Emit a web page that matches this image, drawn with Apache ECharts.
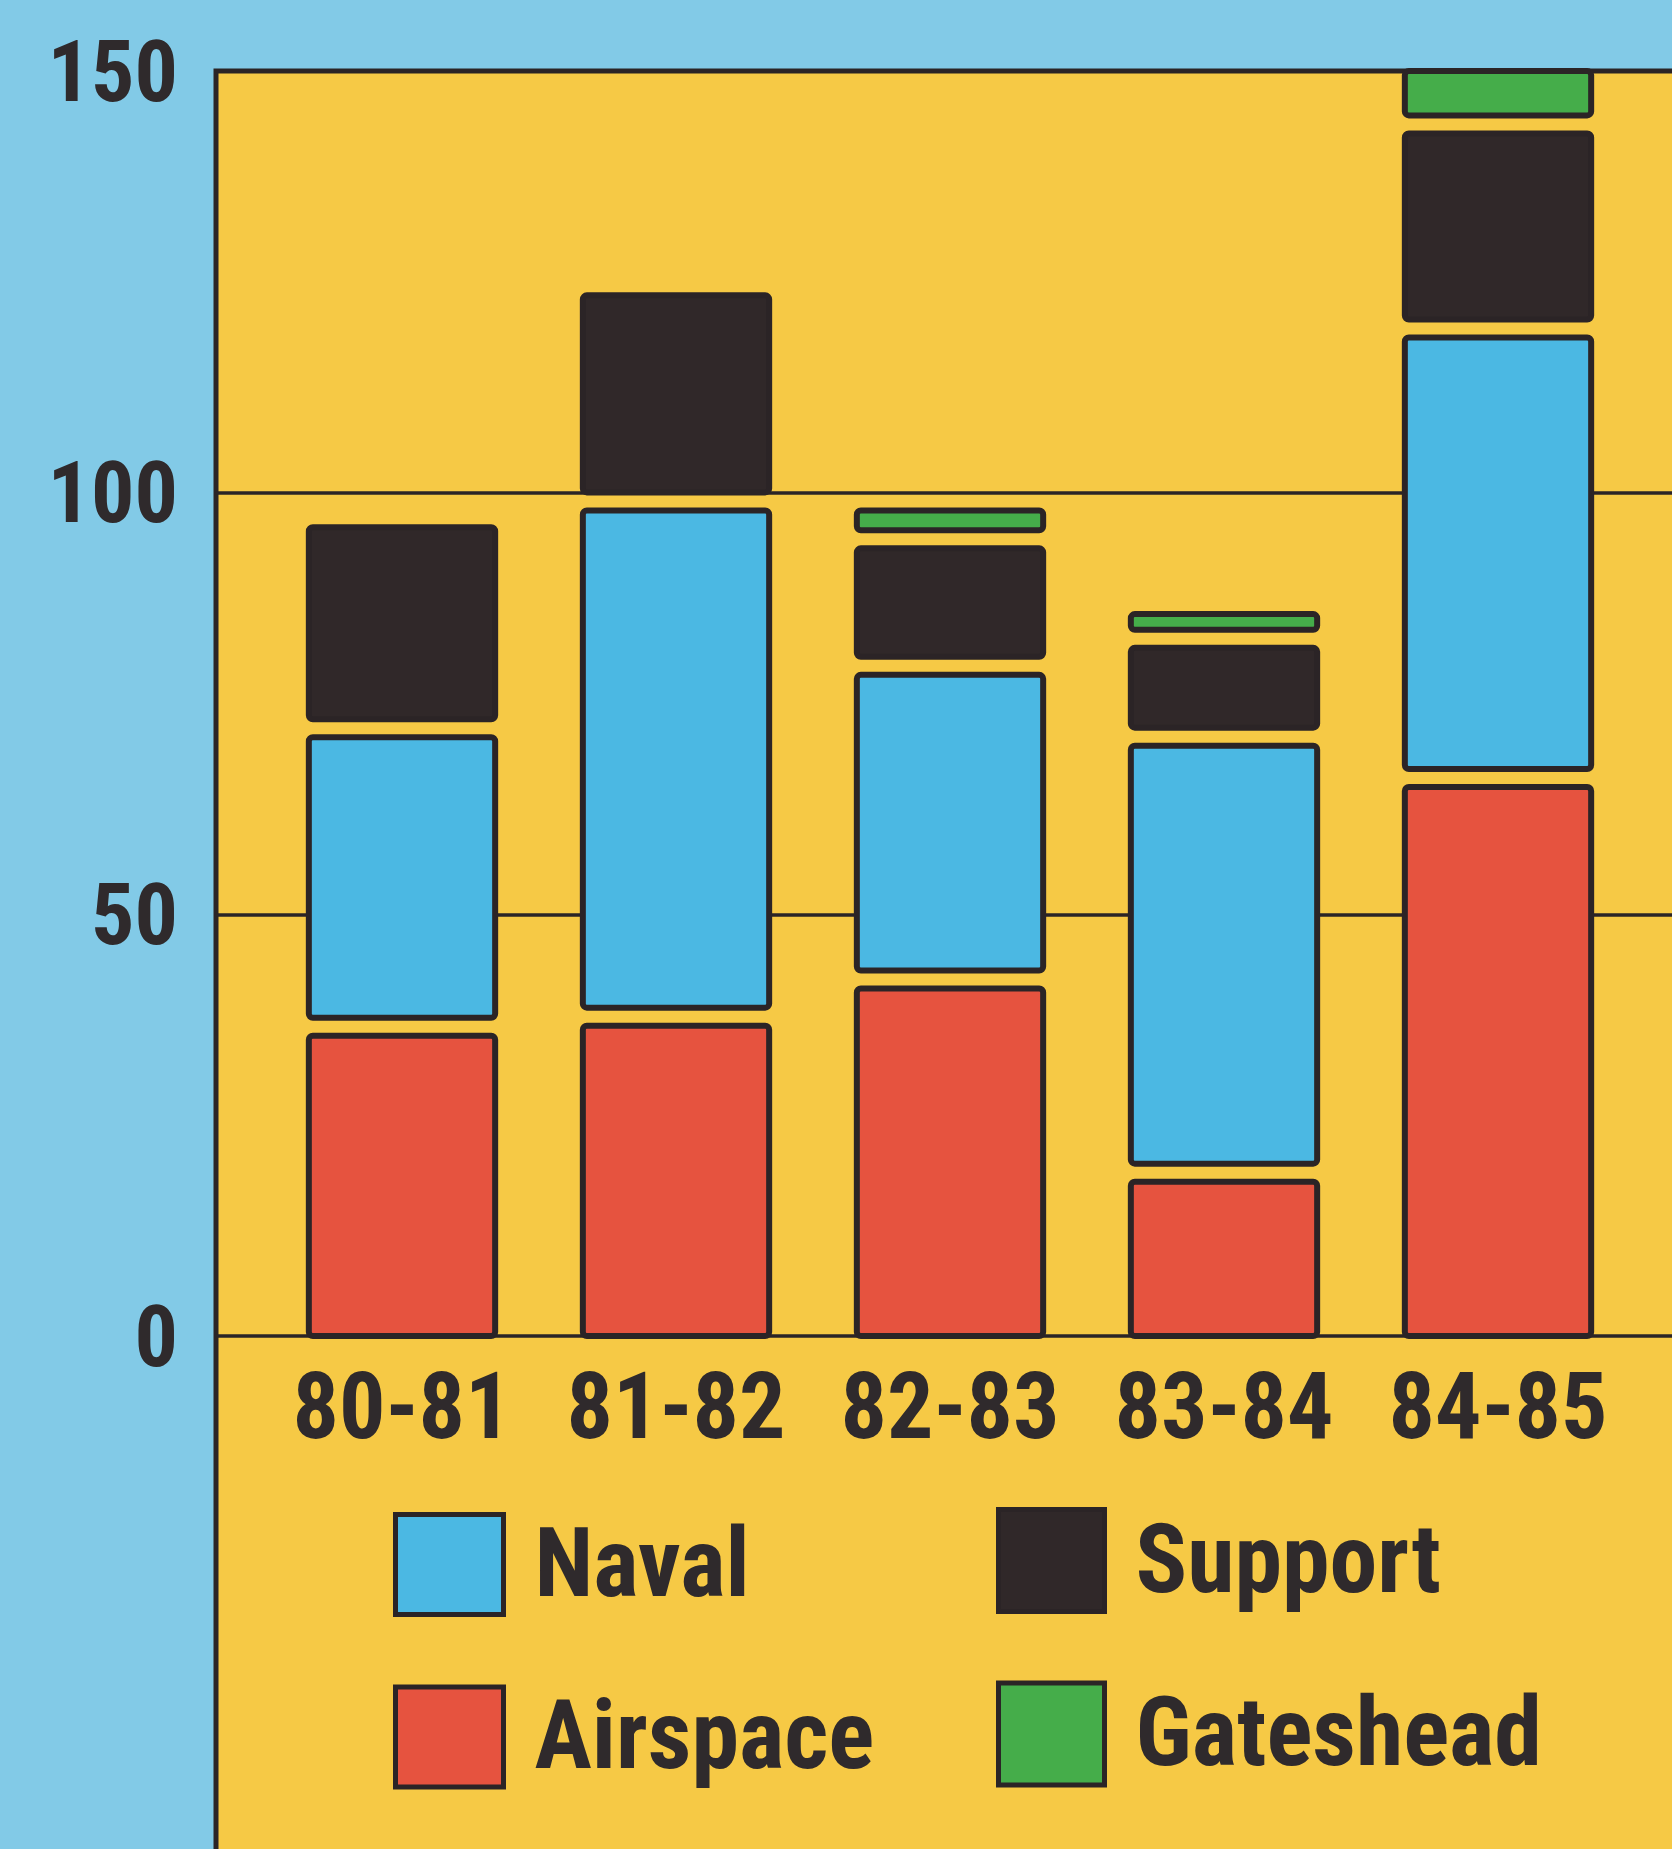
<!DOCTYPE html>
<html><head><meta charset="utf-8">
<script src="https://cdn.jsdelivr.net/npm/echarts@6/dist/echarts.min.js"></script>
<style>html,body{margin:0;padding:0;background:#82cae7;}#c{width:1672px;height:1849px;}</style>
</head><body><div id="c"></div>
<script>
const categories = ['80-81', '81-82', '82-83', '83-84', '84-85'];
const airspace  = [35.6, 36.8, 41.2, 18.3, 65.1];
const naval     = [35.4, 61.1, 37.2, 51.7, 53.3];
const support   = [24.9, 25.5, 15.0, 11.6, 24.2];
const gateshead = [0, 0, 4.5, 4.0, 7.4];
const yTicks = [0, 50, 100, 150];

const FONT = 'Roboto';
const EDGE = '#2b2426';
const TEXT = '#2f2a2c';
const COLORS = {Airspace: '#e6533f', Naval: '#4bb8e3', Support: '#302829', Gateshead: '#45ad4a'};
const GAP = 18;

const stackOrder = [['Airspace', airspace], ['Naval', naval], ['Support', support], ['Gateshead', gateshead]];
const cum = categories.map(() => 0);
const series = stackOrder.map(([name, vals]) => {
  const data = vals.map((v, i) => { const b = cum[i]; cum[i] += v; return [i, b, cum[i]]; });
  const color = COLORS[name];
  return {
    name, type: 'custom', xAxisIndex: 0, yAxisIndex: 0, clip: false, z: 5,
    itemStyle: {color},
    encode: {x: 0, y: [1, 2]},
    data,
    renderItem: function (params, api) {
      const x = api.value(0), base = api.value(1), top = api.value(2);
      if (top - base <= 0) return;
      const p1 = api.coord([x, top]);
      const p0 = api.coord([x, base]);
      const w = api.size([1, 0])[0] * 0.68;
      const y0 = base > 0 ? p0[1] - GAP : p0[1];
      return {
        type: 'rect',
        shape: {x: p1[0] - w / 2, y: p1[1], width: w, height: y0 - p1[1], r: 4},
        style: {fill: color, stroke: EDGE, lineWidth: 6}
      };
    }
  };
});

const legendItem = name => ({name, itemStyle: {color: COLORS[name], borderColor: EDGE, borderWidth: 5}});
const legendText = {
  fontSize: 96, fontWeight: 'bold semi-condensed', color: TEXT, fontFamily: FONT,
  rich: {a: {fontSize: 96, fontWeight: 'bold semi-condensed', color: TEXT, fontFamily: FONT, padding: [14, 0, 0, 26]}}
};

const chart = echarts.init(document.getElementById('c'), null, {renderer: 'canvas'});
chart.setOption({
  backgroundColor: '#82cae7',
  animation: false,
  graphic: {elements: [{
    type: 'rect', z: -100, silent: true,
    shape: {x: 216, y: 71, width: 1600, height: 2000},
    style: {fill: '#f6c945', stroke: EDGE, lineWidth: 5}
  }]},
  grid: [
    {left: 265, width: 1370, top: 71, height: 1265},
    {left: 216, width: 1500, top: 71, height: 1265}
  ],
  xAxis: [
    {type: 'category', gridIndex: 0, data: categories,
     axisLine: {show: false}, axisTick: {show: false}, splitLine: {show: false},
     axisLabel: {interval: 0, fontSize: 92, fontWeight: 'bold condensed', color: TEXT, fontFamily: FONT, margin: 33}},
    {type: 'value', gridIndex: 1, min: 0, max: 1, show: false}
  ],
  yAxis: [
    {type: 'value', gridIndex: 0, min: 0, max: 150, interval: 50, show: false},
    {type: 'value', gridIndex: 1, min: yTicks[0], max: yTicks[yTicks.length - 1], interval: 50,
     axisLine: {show: false}, axisTick: {show: false},
     axisLabel: {margin: 38, formatter: '{a|{value}}',
       rich: {a: {fontSize: 86, fontWeight: 'bold condensed', color: TEXT, fontFamily: FONT, padding: [16, 0, 0, 0]}}},
     splitLine: {show: true, lineStyle: {color: EDGE, width: 3.5}}}
  ],
  legend: [
    {orient: 'vertical', left: 388, top: 1507, itemWidth: 108, itemHeight: 100, itemGap: 65,
     icon: 'rect', selectedMode: false, formatter: '{a|{name}}',
     data: [legendItem('Naval'), legendItem('Airspace')], textStyle: legendText},
    {orient: 'vertical', left: 991, top: 1502, itemWidth: 106, itemHeight: 102, itemGap: 65,
     icon: 'rect', selectedMode: false, formatter: '{a|{name}}',
     data: [legendItem('Support'), legendItem('Gateshead')], textStyle: legendText}
  ],
  series
});
</script></body></html>
